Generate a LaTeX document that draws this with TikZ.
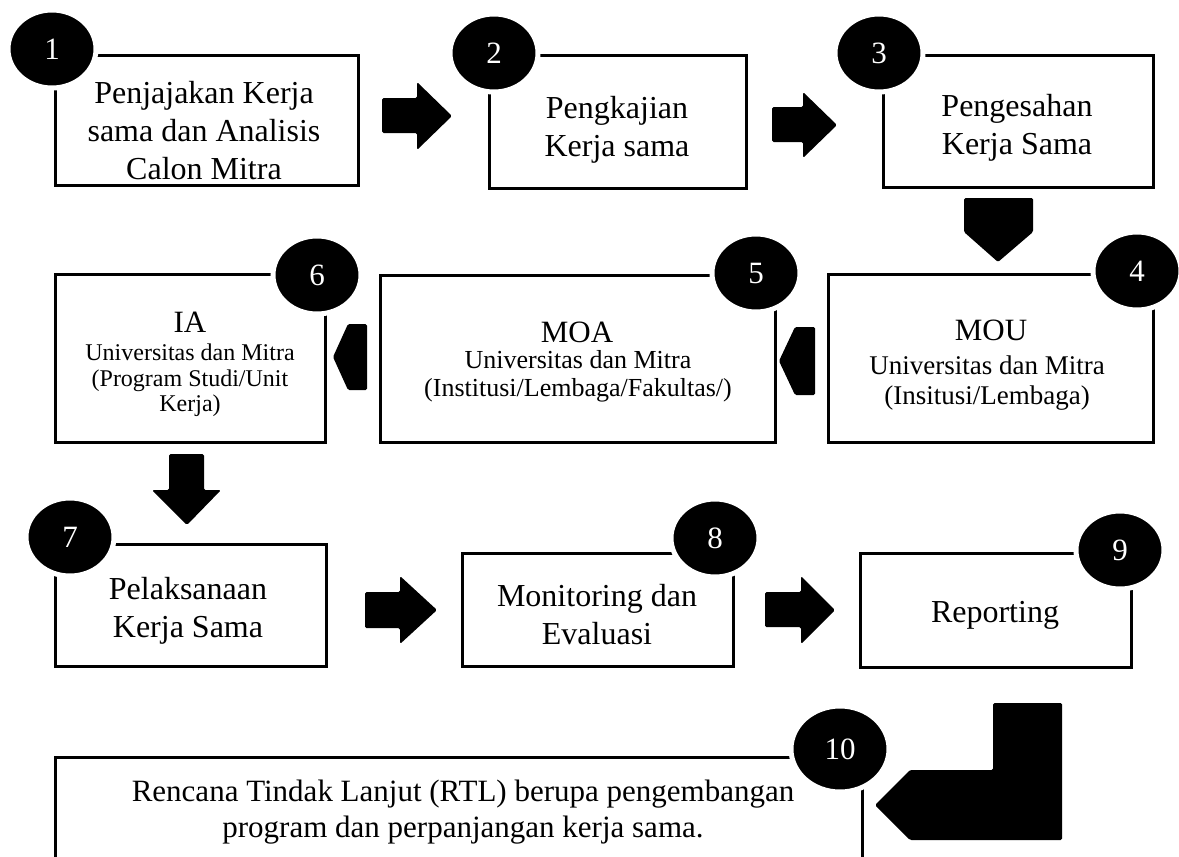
\documentclass[tikz,border=0pt]{standalone}
\usepackage{fontspec}
\setmainfont{Liberation Serif}
\usetikzlibrary{shapes.geometric}
\begin{document}
\begin{tikzpicture}[x=1pt,y=-1pt,
  box/.style={draw=black, line width=3pt, fill=white},
  maintext/.style={font=\fontsize{32}{38}\selectfont, align=center, inner sep=0pt},
  titletext/.style={font=\fontsize{31}{36}\selectfont, align=center, inner sep=0pt},
  subtext/.style={font=\fontsize{26}{28}\selectfont, align=center, inner sep=0pt},
  numcirc/.style={ellipse, fill=black, draw=white, line width=5pt, text=white,
    minimum width=88pt, minimum height=78pt, inner sep=0pt,
    font=\fontsize{31}{33}\selectfont},
  blockarrow/.style={fill=black, rounded corners=1.5pt}]
\useasboundingbox (0,0) rectangle (1179,857);

% boxes
\draw[box] (55,55) rectangle (358,185) coordinate (b1);
\draw[box] (489,55) rectangle (746,188) coordinate (b2);
\draw[box] (883,55) rectangle (1153,187) coordinate (b3);
\draw[box] (828,274) rectangle (1153,442) coordinate (b4);
\draw[box] (380,275) rectangle (775,442) coordinate (b5);
\draw[box] (55,274) rectangle (325,442) coordinate (b6);
\draw[box] (55,544) rectangle (326,666) coordinate (b7);
\draw[box] (462,553) rectangle (733,666) coordinate (b8);
\draw[box] (860,553) rectangle (1131,667) coordinate (b9);
\draw[box] (55,757) rectangle (862,900) coordinate (b10);

% texts
\node[maintext] (t1) at (204,131) {Penjajakan Kerja\\sama dan Analisis\\Calon Mitra};
\node[maintext] (t2) at (617,130) {Pengkajian\\Kerja sama};
\node[maintext] (t3) at (1017,128) {Pengesahan\\Kerja Sama};

\node[titletext] (t4a) at (991,330) {MOU};
\node[subtext, font=\fontsize{27}{30}\selectfont] (t4b) at (987,383) {Universitas dan Mitra\\(Insitusi/Lembaga)};
\node[titletext] (t5a) at (577,332) {MOA};
\node[subtext] (t5b) at (578,376.5) {Universitas dan Mitra\\(Institusi/Lembaga/Fakultas/)};
\node[titletext] (t6a) at (190,322) {IA};
\node[subtext, font=\fontsize{24}{25.5}\selectfont] (t6b) at (190,380.5) {Universitas dan Mitra\\(Program Studi/Unit\\Kerja)};

\node[maintext] (t7) at (188,611) {Pelaksanaan\\Kerja Sama};
\node[maintext] (t8) at (597,615) {Monitoring dan\\Evaluasi};
\node[maintext] (t9) at (995,615) {Reporting};
\node[maintext, font=\fontsize{31}{36}\selectfont] (t10) at (463,812) {Rencana Tindak Lanjut (RTL) berupa pengembangan\\program dan perpanjangan kerja sama.};

% number circles
\node[numcirc] (c1) at (52,49) {1};
\node[numcirc] (c2) at (494,53) {2};
\node[numcirc] (c3) at (879,53) {3};
\node[numcirc] (c4) at (1137,271) {4};
\node[numcirc] (c5) at (756,273) {5};
\node[numcirc] (c6) at (317,275) {6};
\node[numcirc] (c7) at (70,537) {7};
\node[numcirc] (c8) at (715,538) {8};
\node[numcirc] (c9) at (1120,550) {9};
\node[numcirc, minimum width=98pt, minimum height=86pt] (c10) at (840,749) {10};

% block arrows
\fill[blockarrow] (382,98) -- (417,98) -- (417,82) -- (452,116) -- (417,150) -- (417,133) -- (382,133) -- cycle;
\fill[blockarrow] (772,107) -- (803,107) -- (803,92) -- (837,125) -- (803,158) -- (803,142) -- (772,142) -- cycle;
\fill[blockarrow] (964,198) -- (1033,198) -- (1033,232) -- (998,262) -- (964,232) -- cycle;
\fill[blockarrow] (815,327) -- (795,327) -- (779,361) -- (795,395) -- (815,395) -- cycle;
\fill[blockarrow] (367,324) -- (348,324) -- (333,357) -- (348,390) -- (367,390) -- cycle;
\fill[blockarrow] (169,454) -- (204,454) -- (204,490) -- (221,490) -- (187,525) -- (152,490) -- (169,490) -- cycle;
\fill[blockarrow] (365,592) -- (400,592) -- (400,576) -- (437,610) -- (400,644) -- (400,628) -- (365,628) -- cycle;
\fill[blockarrow] (765,592) -- (801,592) -- (801,576) -- (835,610) -- (801,644) -- (801,627) -- (765,627) -- cycle;
\fill[blockarrow] (875,805) -- (910,770) -- (993,770) -- (993,703) -- (1062,703) -- (1062,840) -- (910,840) -- cycle;
\end{tikzpicture}
\end{document}
